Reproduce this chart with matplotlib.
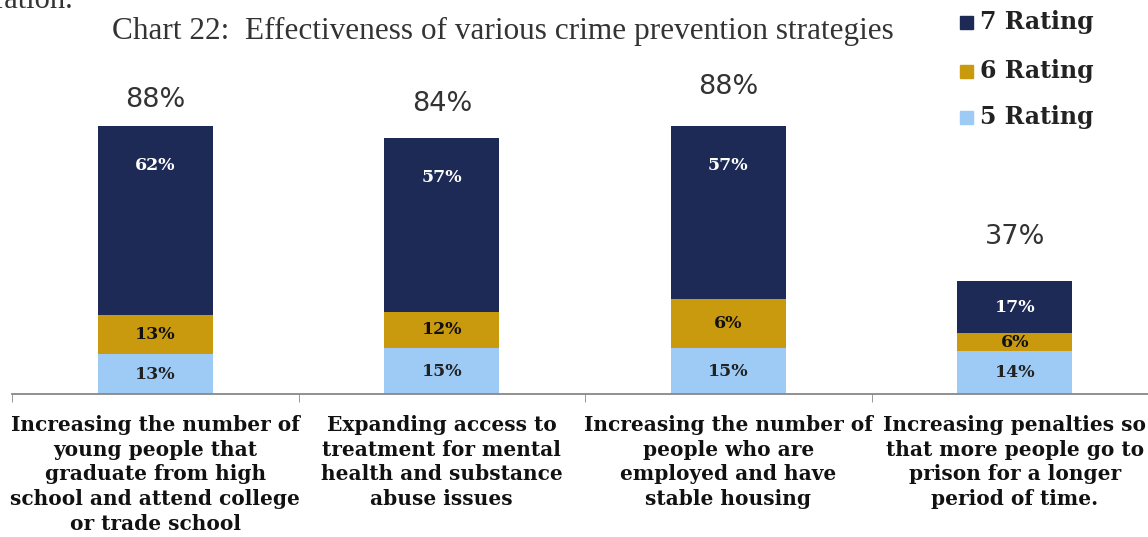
import matplotlib.pyplot as plt
import numpy as np

categories = ["Increasing the number of\nyoung people that\ngraduate from high\nschool and attend college\nor trade school",
              "Expanding access to\ntreatment for mental\nhealth and substance\nabuse issues",
              "Increasing the number of\npeople who are\nemployed and have\nstable housing",
              "Increasing penalties so\nthat more people go to\nprison for a longer\nperiod of time."]
rating5 = [13, 15, 15, 14]
rating6 = [13, 12, 16, 6]
rating7 = [62, 57, 57, 17]
labels5 = ["13%", "15%", "15%", "14%"]
labels6 = ["13%", "12%", "6%", "6%"]
labels7 = ["62%", "57%", "57%", "17%"]
totals = ["88%", "84%", "88%", "37%"]

# gap between bar top and total label, in axis units
total_pad = [8.5, 11, 12.5, 14.5]

c7 = "#1d2a56"
c6 = "#c99a0e"
c5 = "#9dcbf6"
serif = "Liberation Serif"
bold = "DejaVu Serif"

fig = plt.figure(figsize=(11.48, 5.37), dpi=100)
ax = fig.add_axes([12/1148, 143/537, 1146/1148, 305/537])

x = np.arange(len(categories))
w = 0.4
b6 = np.array(rating5)
b7 = b6 + np.array(rating6)
ax.bar(x, rating5, w, color=c5)
ax.bar(x, rating6, w, bottom=b6, color=c6)
ax.bar(x, rating7, w, bottom=b7, color=c7)

for i in range(len(x)):
    ax.text(x[i], rating5[i] / 2, labels5[i], ha="center", va="center",
            fontsize=12.5, fontweight="bold", family=bold, color="#222222")
    ax.text(x[i], b6[i] + rating6[i] / 2, labels6[i], ha="center", va="center",
            fontsize=12.5, fontweight="bold", family=bold, color="#111111")
    top = b7[i] + rating7[i]
    yy = max(b7[i] + rating7[i] / 2, top - 13)
    ax.text(x[i], yy, labels7[i], ha="center", va="center",
            fontsize=12.5, fontweight="bold", family=bold, color="white")
    ax.text(x[i], top + total_pad[i], totals[i], ha="center", va="center",
            fontsize=19.5, family="DejaVu Sans", color="#333333")

ax.set_xlim(-0.5, 3.5)
ax.set_ylim(0, 100)
for s in ["top", "right", "left"]:
    ax.spines[s].set_visible(False)
ax.spines["bottom"].set_color("#888888")
ax.spines["bottom"].set_linewidth(1.3)
ax.set_yticks([])
ax.set_xticks(x)
ax.set_xticklabels(categories, fontsize=14.5, fontweight="bold", family=bold,
                   linespacing=1.3, color="#111111")
ax.tick_params(axis="x", length=0, pad=15)
ax.set_xticks(np.arange(-0.5, 4, 1), minor=True)
ax.tick_params(axis="x", which="minor", length=6, color="#888888")

fig.text(112/1148, 1 - 31/537, "Chart 22:  Effectiveness of various crime prevention strategies",
         fontsize=22.5, family=serif, color="#333333", va="center")
fig.text(-0.005, 1.0, "ration.", fontsize=22, family=serif, color="#333333", va="center")

leg_y = [22, 71, 117]
leg_c = [c7, c6, c5]
leg_t = ["7 Rating", "6 Rating", "5 Rating"]
for yy, cc, tt in zip(leg_y, leg_c, leg_t):
    fig.patches.append(plt.Rectangle((960/1148, 1 - (yy + 7)/537), 13/1148, 13/537,
                                     transform=fig.transFigure, color=cc))
    fig.text(980/1148, 1 - yy/537, tt, fontsize=17, fontweight="bold", family=bold,
             color="#222222", va="center")

fig.savefig("out.png", dpi=100)
